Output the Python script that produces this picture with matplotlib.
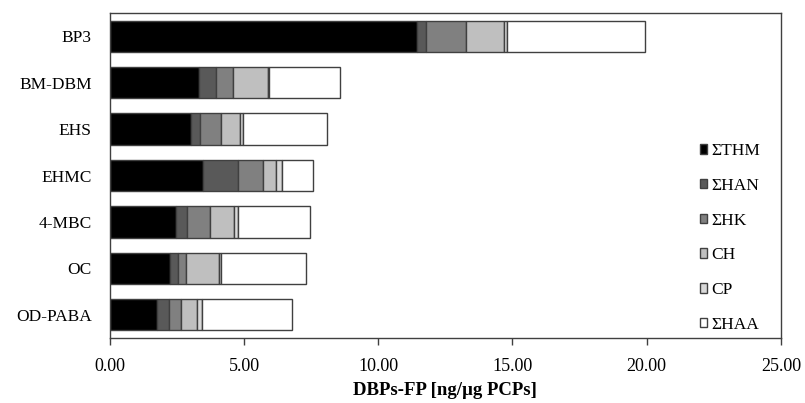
import numpy as np
import matplotlib
matplotlib.use("Agg")
import matplotlib.pyplot as plt
from matplotlib.ticker import FuncFormatter

plt.rcParams['font.family'] = ['Liberation Serif', 'DejaVu Serif']

pcps = ["BP3", "BM-DBM", "EHS", "EHMC", "4-MBC", "OC", "OD-PABA"]
series = ["\u03a3THM", "\u03a3HAN", "\u03a3HK", "CH", "CP", "\u03a3HAA"]

# values (ng/ug PCPs), one list per DBP group
thm = [11.46, 3.32, 3.02, 3.46, 2.47, 2.25, 1.74]
han = [0.32, 0.62, 0.35, 1.30, 0.40, 0.29, 0.47]
hk = [1.49, 0.66, 0.75, 0.95, 0.86, 0.30, 0.45]
ch = [1.41, 1.28, 0.72, 0.47, 0.91, 1.24, 0.60]
cp = [0.12, 0.05, 0.10, 0.23, 0.12, 0.05, 0.18]
haa = [5.12, 2.63, 3.16, 1.15, 2.68, 3.18, 3.36]

colors = ["#000000", "#595959", "#808080", "#bfbfbf", "#d9d9d9", "#ffffff"]

fig = plt.figure(figsize=(8.05, 4.03), dpi=100)
ax = fig.add_axes([0.1366, 0.161, 0.8334, 0.807])

y = np.arange(len(pcps))
left = np.zeros(len(pcps))
for name, vals, c in zip(series, [thm, han, hk, ch, cp, haa], colors):
    ax.barh(y, vals, left=left, height=0.67, color=c, edgecolor="#404040",
            linewidth=1.0, label=name)
    left += np.array(vals)

ax.set_xlim(0, 25)
ax.set_ylim(6.5, -0.5)
ax.set_xticks(np.arange(0, 26, 5))
ax.xaxis.set_major_formatter(FuncFormatter(lambda v, p: "%.2f" % v))
ax.set_yticks(y)
ax.set_yticklabels(pcps)
ax.tick_params(axis="y", length=0, pad=13, labelsize=12.5)
ax.tick_params(axis="x", length=5, width=1, color="#404040", pad=9, labelsize=13)
for s in ax.spines.values():
    s.set_color("#404040")
    s.set_linewidth(1.0)

ax.set_xlabel("DBPs-FP [ng/\u00b5g PCPs]", fontsize=13.5, fontweight="bold", labelpad=5)

leg = ax.legend(loc="center left", bbox_to_anchor=(0.879, 0.308), frameon=False,
                fontsize=12.5, handlelength=0.45, handleheight=0.45,
                handletextpad=0.2, labelspacing=1.08, borderaxespad=0,
                borderpad=0)

fig.savefig("out.png", dpi=100)
